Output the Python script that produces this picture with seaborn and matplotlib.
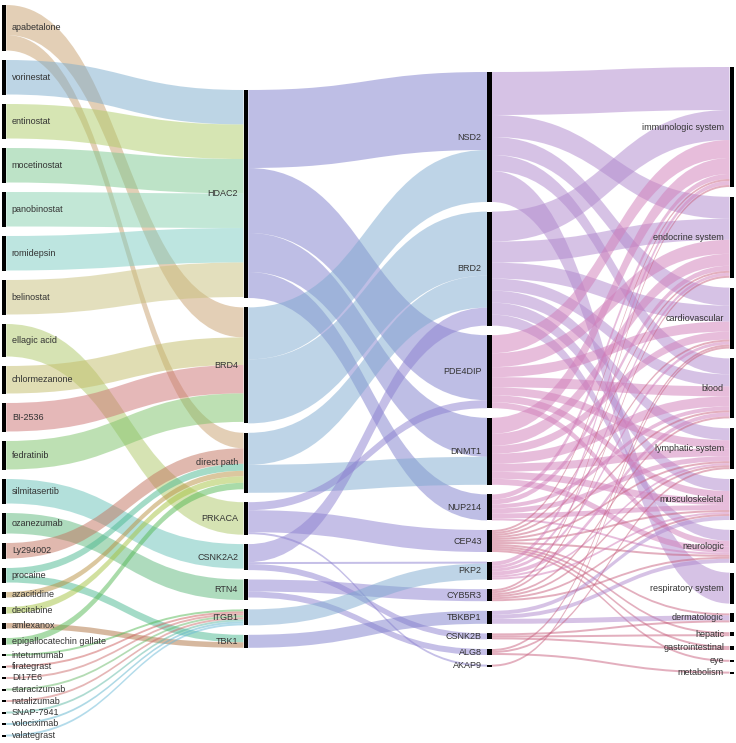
import matplotlib
matplotlib.use("Agg")
import matplotlib.pyplot as plt
from matplotlib.path import Path
from matplotlib.patches import PathPatch, Rectangle
import seaborn as sns

sns.set_theme(style="white")
plt.rcParams['font.family'] = ['Liberation Sans', 'DejaVu Sans']

# ---------------- data ----------------
drugs = ["apabetalone", "vorinestat", "entinostat", "mocetinostat", "panobinostat",
         "romidepsin", "belinostat", "ellagic acid", "chlormezanone", "BI-2536",
         "fedratinib", "silmitasertib", "ozanezumab", "Ly294002", "procaine",
         "azacitidine", "decitabine", "amlexanox", "epigallocatechin gallate",
         "intetumumab", "firategrast", "DI17E6", "etaracizumab", "natalizumab",
         "SNAP-7941", "volociximab", "valategrast"]
targets = ["HDAC2", "BRD4", "direct path", "PRKACA", "CSNK2A2", "RTN4", "ITGB1", "TBK1"]
genes = ["NSD2", "BRD2", "PDE4DIP", "DNMT1", "NUP214", "CEP43", "PKP2", "CYB5R3",
         "TBKBP1", "CSNK2B", "ALG8", "AKAP9"]
systems = ["immunologic system", "endocrine system", "cardiovascular", "blood",
           "lymphatic system", "musculoskeletal", "neurologic", "respiratory system",
           "dermatologic", "hepatic", "gastrointestinal", "eye", "metabolism"]

# stage 1: drug -> target
s1_src = ["apabetalone", "apabetalone", "vorinestat", "entinostat", "mocetinostat",
          "panobinostat", "romidepsin", "belinostat", "ellagic acid", "chlormezanone",
          "BI-2536", "fedratinib", "silmitasertib", "ozanezumab", "Ly294002",
          "procaine", "procaine", "azacitidine", "decitabine", "amlexanox",
          "epigallocatechin gallate", "intetumumab", "firategrast", "DI17E6",
          "etaracizumab", "natalizumab", "SNAP-7941", "volociximab", "valategrast"]
s1_tgt = ["BRD4", "direct path", "HDAC2", "HDAC2", "HDAC2",
          "HDAC2", "HDAC2", "HDAC2", "PRKACA", "BRD4",
          "BRD4", "BRD4", "CSNK2A2", "RTN4", "direct path",
          "direct path", "TBK1", "direct path", "direct path", "TBK1",
          "direct path", "ITGB1", "ITGB1", "ITGB1",
          "ITGB1", "ITGB1", "ITGB1", "ITGB1", "ITGB1"]
s1_val = [30, 15.5, 34.5, 34.5, 34.5,
          34.5, 34.5, 34.5, 32.5, 27.5,
          28.5, 28.5, 24.5, 20.5, 15.5,
          7, 7.5, 5.5, 6.5, 5.5,
          6.5, 2, 2, 2,
          2, 2, 2, 2, 2]

# stage 2: target -> gene
s2_src = ["HDAC2", "HDAC2", "HDAC2", "HDAC2", "BRD4", "BRD4", "direct path", "direct path",
          "PRKACA", "PRKACA", "PRKACA", "CSNK2A2", "CSNK2A2", "CSNK2A2",
          "RTN4", "RTN4", "ITGB1", "TBK1"]
s2_tgt = ["NSD2", "PDE4DIP", "DNMT1", "NUP214", "NSD2", "BRD2", "BRD2", "DNMT1",
          "PDE4DIP", "CEP43", "AKAP9", "BRD2", "PKP2", "CSNK2B",
          "CYB5R3", "ALG8", "PKP2", "TBKBP1"]
s2_val = [78, 65, 39, 26, 52, 64, 32, 28,
          8, 22, 2, 18, 2, 6,
          12, 6, 16, 13]

# stage 3: gene -> system
s3_src = (["NSD2"] * 5 + ["BRD2"] * 7 + ["PDE4DIP"] * 7 + ["DNMT1"] * 7 +
          ["NUP214"] * 6 + ["CEP43"] * 11 + ["PKP2"] * 6 + ["CYB5R3"] * 6 +
          ["TBKBP1"] * 3 + ["CSNK2B"] * 3 + ["ALG8"] * 3 + ["AKAP9"])
s3_tgt = ["immunologic system", "endocrine system", "cardiovascular", "blood", "respiratory system",
          "immunologic system", "endocrine system", "cardiovascular", "blood", "lymphatic system", "musculoskeletal", "neurologic",
          "immunologic system", "endocrine system", "cardiovascular", "blood", "lymphatic system", "musculoskeletal", "neurologic",
          "immunologic system", "endocrine system", "cardiovascular", "blood", "lymphatic system", "musculoskeletal", "neurologic",
          "immunologic system", "endocrine system", "blood", "lymphatic system", "musculoskeletal", "neurologic",
          "immunologic system", "endocrine system", "cardiovascular", "blood", "lymphatic system", "musculoskeletal",
          "neurologic", "dermatologic", "hepatic", "gastrointestinal", "eye",
          "immunologic system", "endocrine system", "cardiovascular", "blood", "lymphatic system", "musculoskeletal",
          "immunologic system", "endocrine system", "blood", "lymphatic system", "musculoskeletal", "neurologic",
          "musculoskeletal", "neurologic", "dermatologic",
          "dermatologic", "hepatic", "gastrointestinal",
          "cardiovascular", "lymphatic system", "metabolism",
          "cardiovascular"]
s3_val = [43, 22, 18, 16, 31,
          30, 21, 16, 12, 12, 12, 11,
          18, 14, 10, 10, 8, 7, 6,
          16, 12, 8, 10, 8, 7, 6,
          5, 5, 4, 5, 5, 2,
          2, 2, 2, 2, 2, 2, 2, 2, 2, 2, 2,
          4, 3, 3, 4, 2, 2,
          2, 2, 2, 2, 2, 2,
          4, 4, 5,
          2, 2, 2,
          2, 2, 2,
          2]

# ---------------- styles ----------------
drug_colors = {
    "apabetalone": "#c8a06e", "vorinestat": "#7dadcd", "entinostat": "#afcd69",
    "mocetinostat": "#7dc991", "panobinostat": "#87d1af", "romidepsin": "#7dcdc3",
    "belinostat": "#c9c17d", "ellagic acid": "#afc969", "chlormezanone": "#c3bd69",
    "BI-2536": "#cd7373", "fedratinib": "#7dc369", "silmitasertib": "#69c3b9",
    "ozanezumab": "#5fb97d", "Ly294002": "#c3735f", "procaine": "#4bb991",
    "azacitidine": "#b99141", "decitabine": "#a5c341", "amlexanox": "#af7341",
    "epigallocatechin gallate": "#55b955", "intetumumab": "#55b955",
    "firategrast": "#cd5f5f", "DI17E6": "#cd6e6e", "etaracizumab": "#69b969",
    "natalizumab": "#cd6e6e", "SNAP-7941": "#5fb9a5", "volociximab": "#5fb4cd",
    "valategrast": "#69b9d7"}
purple = "#7f7fcc"
blue = "#7faad0"
violet = "#8c80d0"
target_colors = {"HDAC2": purple, "BRD4": blue, "direct path": blue, "PRKACA": violet,
                 "CSNK2A2": violet, "RTN4": violet, "ITGB1": blue, "TBK1": purple}
lilac = "#af87cd"
pink = "#d17db9"
rose = "#c8607f"
gene_colors = {"NSD2": lilac, "BRD2": lilac, "PDE4DIP": pink, "DNMT1": pink,
               "NUP214": pink, "CEP43": rose, "PKP2": pink, "CYB5R3": rose,
               "TBKBP1": lilac, "CSNK2B": rose, "ALG8": rose, "AKAP9": rose}

W, H = 736, 743
columns = [drugs, targets, genes, systems]
bar_x = [1.5, 243.5, 487.0, 729.5]
bar_w = 4.8
col_top = [5.0, 90.0, 72.0, 67.0]
col_gap = [9.5, 9.4, 9.6, 9.8]
unit = 1.0

stages = [(s1_src, s1_tgt, s1_val, drug_colors),
          (s2_src, s2_tgt, s2_val, target_colors),
          (s3_src, s3_tgt, s3_val, gene_colors)]

# node values = max(inflow, outflow)
inflow, outflow = {}, {}
for src, tgt, val, _ in stages:
    for s, t, v in zip(src, tgt, val):
        outflow[s] = outflow.get(s, 0) + v
        inflow[t] = inflow.get(t, 0) + v
node_y, node_h, node_col = {}, {}, {}
for c, col in enumerate(columns):
    y = col_top[c]
    for n in col:
        h = max(inflow.get(n, 0), outflow.get(n, 0)) * unit
        node_y[n] = y
        node_h[n] = h
        node_col[n] = c
        y += h + col_gap[c]

fig = plt.figure(figsize=(W / 100, H / 100), dpi=100)
ax = fig.add_axes([0, 0, 1, 1])
ax.set_xlim(0, W)
ax.set_ylim(H, 0)
ax.axis("off")


def band(x0, x1, a0, b0, a1, b1, color):
    xm = (x0 + x1) / 2
    verts = [(x0, a0), (xm, a0), (xm, a1), (x1, a1), (x1, b1),
             (xm, b1), (xm, b0), (x0, b0), (x0, a0)]
    codes = [Path.MOVETO, Path.CURVE4, Path.CURVE4, Path.CURVE4, Path.LINETO,
             Path.CURVE4, Path.CURVE4, Path.CURVE4, Path.CLOSEPOLY]
    ax.add_patch(PathPatch(Path(verts, codes), facecolor=color, edgecolor="none",
                           alpha=0.5, zorder=1))


for src, tgt, val, cmap in stages:
    links = list(zip(src, tgt, val))
    out_off = {}
    for n in set(src):
        ls = sorted([l for l in links if l[0] == n], key=lambda l: node_y[l[1]])
        y = node_y[n]
        for l in ls:
            out_off[l] = y
            y += l[2] * unit
    in_off = {}
    for n in set(tgt):
        ls = sorted([l for l in links if l[1] == n], key=lambda l: node_y[l[0]])
        y = node_y[n]
        for l in ls:
            in_off[l] = y
            y += l[2] * unit
    for l in links:
        s, t, v = l
        x0 = bar_x[node_col[s]] + bar_w
        x1 = bar_x[node_col[t]]
        a0 = out_off[l]
        a1 = in_off[l]
        band(x0, x1, a0, a0 + v * unit, a1, a1 + v * unit, cmap[s])

for n in node_y:
    c = node_col[n]
    ax.add_patch(Rectangle((bar_x[c], node_y[n]), bar_w, max(node_h[n], 1.5),
                           facecolor="black", edgecolor="none", zorder=3))
    yc = node_y[n] + node_h[n] / 2
    if c == 0:
        ax.text(bar_x[c] + bar_w + 5.5, yc, n, ha="left", va="center",
                fontsize=6.5, color="#333333", zorder=4)
    else:
        ax.text(bar_x[c] - 5.5, yc, n, ha="right", va="center",
                fontsize=6.5, color="#333333", zorder=4)

fig.savefig("out.png", dpi=100)
